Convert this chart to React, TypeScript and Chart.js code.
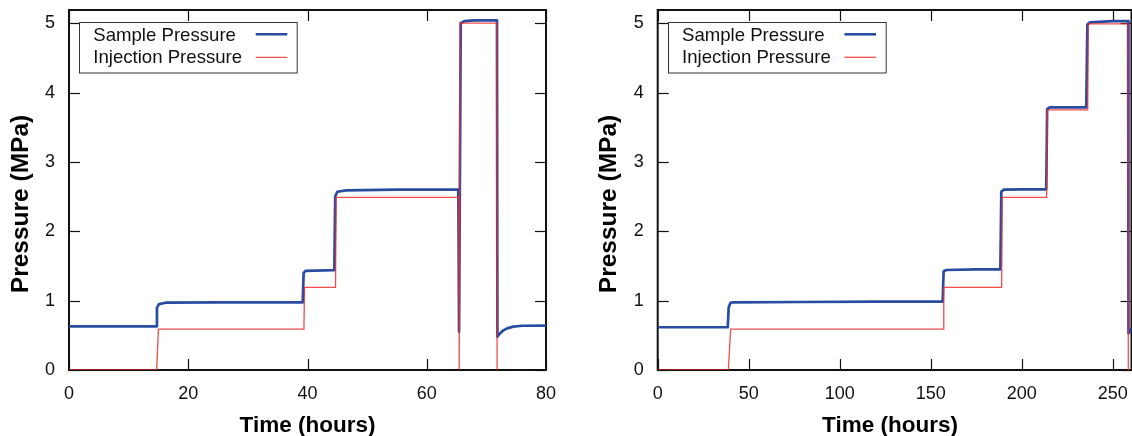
import React, { useEffect, useRef } from "react";
import { Chart, registerables } from "chart.js";

Chart.register(...registerables);

// ---------- data ----------
const seriesLabels = ["Sample Pressure", "Injection Pressure"];
const xTitle = "Time (hours)";
const yTitle = "Pressure (MPa)";
const yTicks = [0, 1, 2, 3, 4, 5];
const leftXTicks = [0, 20, 40, 60, 80];
const rightXTicks = [0, 50, 100, 150, 200, 250];

const leftSampleTime = [0, 14.6, 14.75, 15.1, 16.2, 25, 39.2, 39.35, 39.7, 44.5, 44.65, 45.0, 46.5, 55, 65.3, 65.42, 65.7, 66.3, 68, 71.78, 71.85, 72.2, 72.8, 73.5, 74.5, 76, 80];
const leftSamplePressure = [0.63, 0.63, 0.9, 0.95, 0.97, 0.975, 0.975, 1.4, 1.43, 1.44, 2.5, 2.57, 2.59, 2.6, 2.6, 0.55, 5.0, 5.03, 5.04, 5.04, 0.48, 0.52, 0.57, 0.6, 0.625, 0.638, 0.64];
const leftInjectionTime = [0, 14.7, 15.0, 39.4, 39.5, 44.7, 44.8, 65.4, 65.45, 65.55, 65.6, 71.75, 71.8];
const leftInjectionPressure = [0, 0, 0.59, 0.59, 1.19, 1.19, 2.49, 2.49, 0, 0, 5.0, 5.0, 0];

const rightSampleTime = [0, 38.5, 39.0, 40.0, 41.5, 80, 120, 156.6, 157.1, 158.5, 175, 188.3, 188.8, 190.2, 200, 213.5, 214.0, 215.5, 235.5, 236.1, 237.5, 250, 258.5, 258.7, 259.6, 260.5];
const rightSamplePressure = [0.616, 0.616, 0.9, 0.97, 0.976, 0.98, 0.985, 0.985, 1.42, 1.442, 1.45, 1.45, 2.57, 2.6, 2.605, 2.605, 3.76, 3.787, 3.787, 4.98, 5.013, 5.03, 5.03, 0.53, 0.57, 0.6];
const rightInjectionTime = [0, 38.8, 40.1, 156.9, 157.2, 189.0, 189.3, 213.7, 214.0, 236.3, 236.6, 258.4, 258.6];
const rightInjectionPressure = [0, 0, 0.59, 0.59, 1.19, 1.19, 2.49, 2.49, 3.75, 3.75, 4.99, 4.99, 0];

// ---------- style ----------
const FONT = "'Liberation Sans', Arial, Helvetica, sans-serif";
const BLUE = "#2a4ca0";
const RED = "rgba(236, 45, 45, 0.85)";
const H = 436;
const AREA_TOP = 10;
const AREA_BOTTOM = 370;
const Y_MAX = 5.19;

type Panel = {
  pageLeft: number;
  width: number;
  areaLeft: number;
  areaRight: number;
  xMax: number;
  xTicks: number[];
  sampleT: number[];
  sampleP: number[];
  injT: number[];
  injP: number[];
  xTitleCenter: number;
};

const panels: Panel[] = [
  {
    pageLeft: 0, width: 580, areaLeft: 69, areaRight: 546, xMax: 80, xTicks: leftXTicks,
    sampleT: leftSampleTime, sampleP: leftSamplePressure, injT: leftInjectionTime, injP: leftInjectionPressure,
    xTitleCenter: 307.5,
  },
  {
    pageLeft: 580, width: 600, areaLeft: 657.7, areaRight: 1131.5, xMax: 260.35, xTicks: rightXTicks,
    sampleT: rightSampleTime, sampleP: rightSamplePressure, injT: rightInjectionTime, injP: rightInjectionPressure,
    xTitleCenter: 890,
  },
];

const framePlugin = {
  id: "frame",
  beforeDatasetsDraw(chart: any, _args: any, opts: any) {
    const { ctx, chartArea: a, scales } = chart;
    ctx.save();
    ctx.strokeStyle = "#111";
    ctx.lineWidth = 2;
    ctx.strokeRect(a.left, a.top, a.right - a.left, a.bottom - a.top);
    ctx.lineWidth = 1.2;
    const seg = (x1: number, y1: number, x2: number, y2: number) => {
      ctx.beginPath();
      ctx.moveTo(x1, y1);
      ctx.lineTo(x2, y2);
      ctx.stroke();
    };
    const L = 11;
    for (const v of yTicks) {
      const y = Math.round(scales.y.getPixelForValue(v)) + 0.5;
      seg(a.left, y, a.left + L, y);
      seg(a.right - L, y, a.right, y);
    }
    for (const v of opts.xTicks as number[]) {
      const x = Math.round(scales.x.getPixelForValue(v)) + 0.5;
      seg(x, a.bottom, x, a.bottom - L);
      seg(x, a.top, x, a.top + L);
    }
    ctx.restore();
  },
  afterDraw(chart: any, _args: any, opts: any) {
    const { ctx, chartArea: a } = chart;
    ctx.save();
    // legend
    const bx = a.left + 10.3;
    const by = 21.7;
    ctx.fillStyle = "#fff";
    ctx.fillRect(bx, by, 217.7, 50.5);
    ctx.strokeStyle = "#333";
    ctx.lineWidth = 1;
    ctx.strokeRect(Math.round(bx) + 0.5, Math.round(by) + 0.5, 217.7, 50.5);
    ctx.fillStyle = "#111";
    ctx.font = `18.6px ${FONT}`;
    ctx.textAlign = "left";
    ctx.textBaseline = "alphabetic";
    ctx.fillText(seriesLabels[0], a.left + 24.3, 40.7);
    ctx.fillText(seriesLabels[1], a.left + 24.3, 63.3);
    ctx.lineWidth = 2.6;
    ctx.strokeStyle = BLUE;
    ctx.beginPath();
    ctx.moveTo(a.left + 186.7, 34.3);
    ctx.lineTo(a.left + 218.3, 34.3);
    ctx.stroke();
    ctx.lineWidth = 1.3;
    ctx.strokeStyle = RED;
    ctx.beginPath();
    ctx.moveTo(a.left + 186.7, 57.3);
    ctx.lineTo(a.left + 218.3, 57.3);
    ctx.stroke();
    // titles
    ctx.fillStyle = "#000";
    ctx.font = `bold 22.5px ${FONT}`;
    ctx.textAlign = "center";
    ctx.textBaseline = "alphabetic";
    ctx.fillText(xTitle, opts.xTitleCenter, 431.5);
    ctx.translate(a.left - 48, 204);
    ctx.rotate(-Math.PI / 2);
    ctx.font = `bold 24.5px ${FONT}`;
    ctx.textBaseline = "middle";
    ctx.fillText(yTitle, 0, 0);
    ctx.restore();
  },
};

function PanelChart({ p }: { p: Panel }) {
  const ref = useRef<HTMLCanvasElement>(null);
  useEffect(() => {
    if (!ref.current) return;
    const yWidth = p.areaLeft - p.pageLeft;
    const padRight = p.pageLeft + p.width - p.areaRight;
    const chart = new Chart(ref.current, {
      type: "line",
      data: {
        datasets: [
          {
            label: seriesLabels[1],
            data: p.injT.map((t, i) => ({ x: t, y: p.injP[i] })),
            borderColor: RED,
            borderWidth: 1.3,
            pointRadius: 0,
            tension: 0,
            fill: false,
            order: 1,
          },
          {
            label: seriesLabels[0],
            data: p.sampleT.map((t, i) => ({ x: t, y: p.sampleP[i] })),
            borderColor: BLUE,
            borderWidth: 2.7,
            pointRadius: 0,
            tension: 0,
            fill: false,
            borderJoinStyle: "round",
            order: 2,
          },
        ],
      },
      options: {
        animation: false,
        responsive: false,
        events: [],
        layout: { padding: { top: AREA_TOP, left: 0, right: padRight, bottom: 0 } },
        plugins: {
          legend: { display: false },
          tooltip: { enabled: false },
          frame: { xTicks: p.xTicks, xTitleCenter: p.xTitleCenter - p.pageLeft },
        } as any,
        scales: {
          x: {
            type: "linear",
            min: 0,
            max: p.xMax,
            grid: { display: false },
            border: { display: false },
            ticks: { font: { family: FONT, size: 18 }, color: "#111", padding: 5, maxRotation: 0 },
            afterBuildTicks: (s: any) => {
              s.ticks = p.xTicks.map((v) => ({ value: v }));
            },
            afterFit: (s: any) => {
              s.height = H - AREA_BOTTOM;
              s.paddingLeft = 0;
              s.paddingRight = 0;
            },
          },
          y: {
            type: "linear",
            min: 0,
            max: Y_MAX,
            grid: { display: false },
            border: { display: false },
            ticks: { font: { family: FONT, size: 18 }, color: "#111", padding: 6 },
            afterBuildTicks: (s: any) => {
              s.ticks = yTicks.map((v) => ({ value: v }));
            },
            afterFit: (s: any) => {
              s.width = yWidth;
              s.paddingTop = 0;
              s.paddingBottom = 0;
            },
          },
        },
      },
      plugins: [framePlugin as any],
    });
    return () => chart.destroy();
  }, [p]);
  return (
    <canvas
      ref={ref}
      width={p.width}
      height={H}
      style={{ position: "absolute", left: p.pageLeft, top: 0, width: p.width, height: H }}
    />
  );
}

export default function App() {
  return (
    <div
      style={{
        position: "fixed",
        left: 0,
        top: 0,
        width: 1132,
        height: H,
        overflow: "hidden",
        background: "#fff",
      }}
    >
      {panels.map((p, i) => (
        <PanelChart key={i} p={p} />
      ))}
    </div>
  );
}
